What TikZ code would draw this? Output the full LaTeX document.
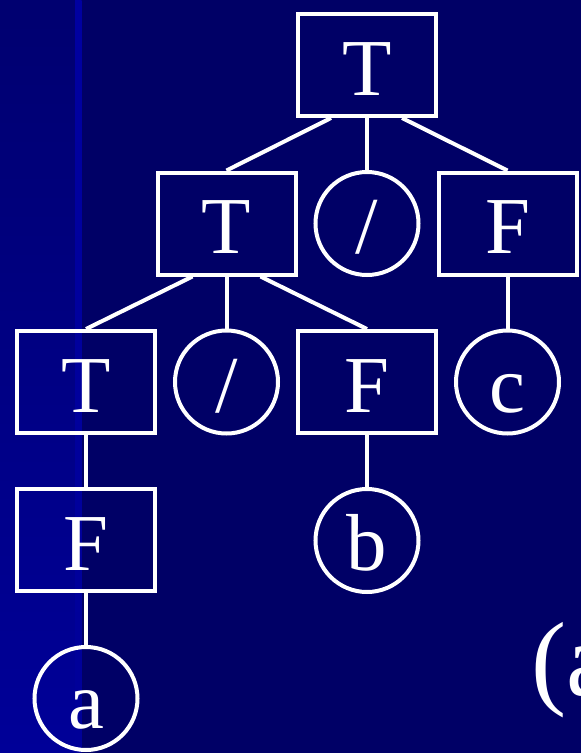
\documentclass[tikz,border=0pt]{standalone}
\usepackage{fontspec}
\setmainfont{Liberation Serif}
\usetikzlibrary{positioning}
\definecolor{cnavy}{HTML}{000066}
\definecolor{cleft}{HTML}{000070}
\definecolor{cleftlow}{HTML}{000098}
\definecolor{cstripe}{HTML}{0000A0}
\tikzset{
  every picture/.style={line width=0.08cm},
  sym/.style={draw=white, text=white, inner sep=0pt, text height=1.4cm, text depth=0.2cm, font=\fontsize{46}{50}\selectfont},
  nonterm/.style={sym, rectangle, minimum width=2.76cm, minimum height=2.04cm},
  term/.style={sym, circle, minimum size=2.06cm},
  branch/.style={draw=white, line width=0.08cm},
  caption/.style={text=white, inner sep=0pt, font=\fontsize{60}{64}\selectfont},
}

\begin{document}
\begin{tikzpicture}[node distance=1.04cm and 0.32cm]
  % background
  \useasboundingbox (0,0) rectangle (11.62,-15.06);
  \fill[cnavy] (0,0) rectangle (11.62,-15.06);
  \shade[top color=cleft, bottom color=cleftlow] (0,0) rectangle (1.5,-15.06);
  \shade[top color=cstripe, bottom color=cleftlow] (1.5,0) rectangle (1.63,-15.06);

  % parse tree
  \node[nonterm] (root) at (7.34,-1.3) {T};
  \node[term, below=of root] (div1) {/};
  \node[nonterm, left=of div1] (t2) {T};
  \node[nonterm, right=of div1] (f1) {F};
  \node[term, below=of t2] (div2) {/};
  \node[nonterm, left=of div2] (t3) {T};
  \node[nonterm, right=of div2] (f3) {F};
  \node[term, right=of f3] (c) {c};
  \node[nonterm, below=of t3] (f4) {F};
  \node[term, below=of f3] (b) {b};
  \node[term, below=of f4] (a) {a};

  \draw[branch] ([xshift=-0.72cm]root.south) -- (t2.north);
  \draw[branch] (root.south) -- (div1.north);
  \draw[branch] ([xshift=0.7cm]root.south) -- (f1.north);
  \draw[branch] ([xshift=-0.68cm]t2.south) -- (t3.north);
  \draw[branch] (t2.south) -- (div2.north);
  \draw[branch] ([xshift=0.68cm]t2.south) -- (f3.north);
  \draw[branch] (f1) -- (c);
  \draw[branch] (f3) -- (b);
  \draw[branch] (t3) -- (f4);
  \draw[branch] (f4) -- (a);

  \node[caption, anchor=base west] (label) at (10.58,-13.9) {(a};
\end{tikzpicture}
\end{document}
